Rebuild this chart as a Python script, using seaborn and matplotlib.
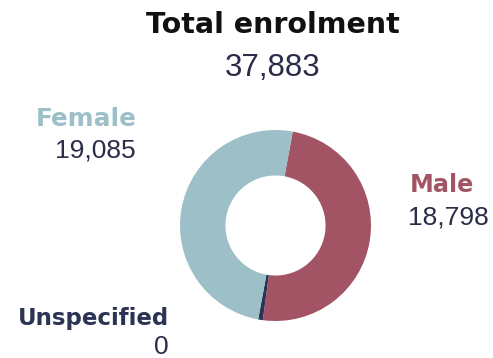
import matplotlib
matplotlib.use("Agg")
import matplotlib.pyplot as plt
import seaborn as sns

# ---- data ----
categories = ["Male", "Unspecified", "Female"]
values = [18798, 0, 19085]
colors = ["#A35464", "#2B3553", "#9DBFC8"]
title_text = "Total enrolment"

total = sum(values)
# tiny minimum so a zero category still shows as a sliver (as in the reference)
display_vals = [max(v, total * 0.008) for v in values]

sns.set_theme(style="white")
plt.rcParams["font.family"] = ["DejaVu Sans"]

W, H = 493, 358
fig = plt.figure(figsize=(W / 100, H / 100), dpi=100)
fig.patch.set_facecolor("white")

# donut axes: center (275.5, 225.5) px, outer radius 95.5 px
cx, cy, r = 275.5, 225.5, 95.5
ax = fig.add_axes([(cx - r) / W, 1 - (cy + r) / H, 2 * r / W, 2 * r / H])
ax.pie(display_vals, colors=colors, startangle=79.6, counterclock=False,
       radius=1, wedgeprops=dict(width=0.476, linewidth=0))
ax.set_xlim(-1, 1)
ax.set_ylim(-1, 1)
ax.set_aspect("equal")
ax.axis("off")

def fx(x):
    return x / W

def fy(y):
    return 1 - y / H

label_font = ["DejaVu Sans"]
num_font = ["Liberation Sans", "DejaVu Sans"]
num_color = "#2B2D48"

fig.text(fx(273), fy(33), title_text, ha="center", va="baseline",
         fontsize=20.5, fontweight="bold", family=label_font, color="#111111")
fig.text(fx(273), fy(76), f"{total:,}", ha="center", va="baseline",
         fontsize=22.5, family=num_font, color=num_color)

# Female (left, right-aligned)
fig.text(fx(137), fy(126), categories[2], ha="right", va="baseline",
         fontsize=17.8, fontweight="bold", family=label_font, color=colors[2])
fig.text(fx(136), fy(158), f"{values[2]:,}", ha="right", va="baseline",
         fontsize=19, family=num_font, color=num_color)

# Male (right, left-aligned)
fig.text(fx(410), fy(192), categories[0], ha="left", va="baseline",
         fontsize=17.2, fontweight="bold", family=label_font, color=colors[0])
fig.text(fx(408), fy(225), f"{values[0]:,}", ha="left", va="baseline",
         fontsize=19, family=num_font, color=num_color)

# Unspecified (bottom-left, right-aligned)
fig.text(fx(169), fy(325), categories[1], ha="right", va="baseline",
         fontsize=16.5, fontweight="bold", family=label_font, color=colors[1])
fig.text(fx(169), fy(354), f"{values[1]:,}", ha="right", va="baseline",
         fontsize=19, family=num_font, color=num_color)

fig.savefig("out.png", dpi=100, facecolor="white")
